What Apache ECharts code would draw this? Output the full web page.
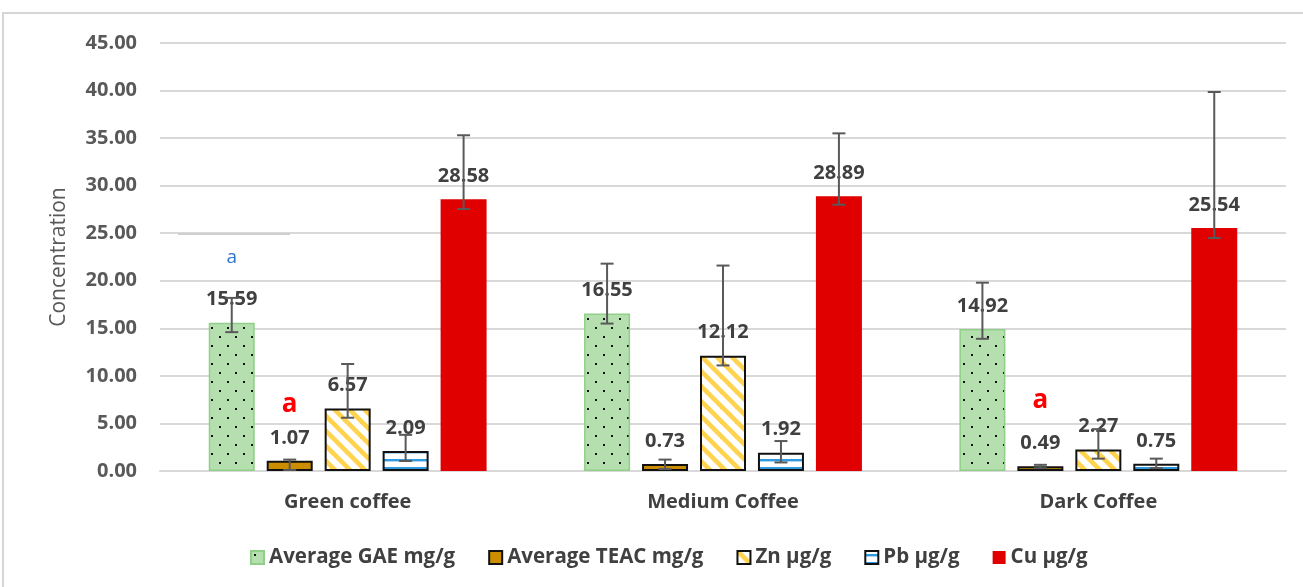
<!DOCTYPE html>
<html>
<head>
<meta charset="utf-8">
<script src="https://cdn.jsdelivr.net/npm/echarts@6/dist/echarts.min.js"></script>
<style>
  html, body { margin: 0; padding: 0; background: #ffffff; }
  #chart { width: 1303px; height: 587px; }
</style>
</head>
<body>
<div id="chart"></div>
<script>
// Categories and series
const categories = ['Green coffee', 'Medium Coffee', 'Dark Coffee'];
const seriesNames = ['Average GAE mg/g', 'Average TEAC mg/g', 'Zn µg/g', 'Pb µg/g', 'Cu µg/g'];

// Mean values per roast level
const gae  = [15.59, 16.55, 14.92];
const teac = [1.07, 0.73, 0.49];
const zn   = [6.57, 12.12, 2.27];
const pb   = [2.09, 1.92, 0.75];
const cu   = [28.58, 28.89, 25.54];

// Error bar ends (lower / upper) per series
const gaeLow  = [14.6, 15.5, 13.9];
const gaeHigh = [18.2, 21.8, 19.8];
const teacLow  = [0.1, 0.2, 0.3];
const teacHigh = [1.2, 1.2, 0.65];
const znLow  = [5.6, 11.1, 1.3];
const znHigh = [11.25, 21.6, 4.4];
const pbLow  = [1.05, 0.9, 0.3];
const pbHigh = [3.8, 3.15, 1.3];
const cuLow  = [27.55, 28.0, 24.5];
const cuHigh = [35.3, 35.5, 39.85];

// Y axis ticks
const yMin = 0, yMax = 45, yStep = 5;

// Significance letters: category index, series index, y position, text, colour
const annCat    = [0, 0, 2];
const annSeries = [0, 1, 1];
const annY      = [22.4, 6.95, 7.35];
const annText   = ['a', 'a', 'a'];
const annColor  = ['#2e74d0', '#ff0000', '#ff0000'];
const annBold   = [false, true, true];

const values = [gae, teac, zn, pb, cu];
const lows   = [gaeLow, teacLow, znLow, pbLow, cuLow];
const highs  = [gaeHigh, teacHigh, znHigh, pbHigh, cuHigh];

const BAR_W = 46;
const BAR_GAP = 0.26;
const STEP = BAR_W * (1 + BAR_GAP);

function makePattern(w, h, draw) {
  const c = document.createElement('canvas');
  c.width = w; c.height = h;
  const ctx = c.getContext('2d');
  draw(ctx, w, h);
  return { image: c, repeat: 'repeat' };
}

// Dotted green fill
const dotFill = makePattern(16, 18, (ctx, w, h) => {
  ctx.fillStyle = '#b6dfb0';
  ctx.fillRect(0, 0, w, h);
  ctx.fillStyle = '#111111';
  ctx.fillRect(3, 3, 2, 2);
  ctx.fillRect(11, 12, 2, 2);
});

// Yellow diagonal stripes on white
const stripeFill = makePattern(15, 15, (ctx, w, h) => {
  ctx.fillStyle = '#ffffff';
  ctx.fillRect(0, 0, w, h);
  ctx.strokeStyle = '#ffd34d';
  ctx.lineWidth = 4.6;
  for (let k = -2; k <= 2; k++) {
    ctx.beginPath();
    ctx.moveTo(k * w - w, -h);
    ctx.lineTo(k * w + 2 * w, 2 * h);
    ctx.stroke();
  }
});

// Blue horizontal lines on white
const lineFill = makePattern(8, 8, (ctx, w, h) => {
  ctx.fillStyle = '#ffffff';
  ctx.fillRect(0, 0, w, h);
  ctx.fillStyle = '#2f9ae0';
  ctx.fillRect(0, 3, w, 2.4);
});

const styles = [
  { color: dotFill, borderColor: '#8fcf87', borderWidth: 1.5 },
  { color: '#cc8e00', borderColor: '#111111', borderWidth: 2 },
  { color: stripeFill, borderColor: '#111111', borderWidth: 2 },
  { color: lineFill, borderColor: '#111111', borderWidth: 2 },
  { color: '#e00000', borderColor: '#e00000', borderWidth: 0 }
];

const labelStyle = {
  show: true,
  position: 'top',
  distance: 13,
  color: '#404040',
  fontFamily: 'Open Sans',
  fontWeight: 'bold',
  fontSize: 20,
  formatter: p => p.value.toFixed(2)
};

const barSeries = seriesNames.map((name, i) => ({
  name: name,
  type: 'bar',
  barWidth: BAR_W,
  barGap: (BAR_GAP * 100) + '%',
  data: values[i],
  itemStyle: styles[i],
  label: labelStyle,
  emphasis: { disabled: true },
  z: 2
}));

// Error bar items: [category, series, low, high]
const errData = [];
for (let s = 0; s < seriesNames.length; s++) {
  for (let c = 0; c < categories.length; c++) {
    errData.push([c, s, lows[s][c], highs[s][c]]);
  }
}

const annData = annCat.map((c, i) => [c, annSeries[i], annY[i], i]);

const chart = echarts.init(document.getElementById('chart'), null, { renderer: 'canvas' });

chart.setOption({
  animation: false,
  backgroundColor: '#ffffff',
  textStyle: { fontFamily: 'Open Sans' },
  grid: { left: 160, right: 17, top: 43, bottom: 116, containLabel: false },
  legend: {
    data: seriesNames,
    left: 245,
    top: 542,
    icon: 'rect',
    itemWidth: 13,
    itemHeight: 13,
    itemGap: 33,
    textStyle: { color: '#404040', fontSize: 20.5, fontWeight: 'bold', fontFamily: 'Open Sans' },
    selectedMode: false
  },
  xAxis: {
    type: 'category',
    data: categories,
    axisLine: { show: true, lineStyle: { color: '#d9d9d9', width: 2 } },
    axisTick: { show: false },
    axisLabel: { color: '#404040', fontSize: 20, fontWeight: 'bold', margin: 21, fontFamily: 'Open Sans' }
  },
  yAxis: {
    type: 'value',
    min: yMin,
    max: yMax,
    interval: yStep,
    name: 'Concentration',
    nameLocation: 'middle',
    nameGap: 90,
    nameRotate: 90,
    nameTextStyle: { color: '#595959', fontSize: 21, fontFamily: 'Open Sans' },
    axisLine: { show: false },
    axisTick: { show: false },
    axisLabel: {
      color: '#595959', fontSize: 20, fontWeight: 'bold', margin: 23, fontFamily: 'Open Sans',
      formatter: v => v.toFixed(2)
    },
    splitLine: { lineStyle: { color: '#d9d9d9', width: 2 } }
  },
  series: barSeries.concat([
    {
      name: 'errors',
      type: 'custom',
      data: errData,
      encode: { x: 0, y: [2, 3] },
      z: 5,
      silent: true,
      renderItem: (params, api) => {
        const c = api.value(0), s = api.value(1);
        const lo = api.coord([c, api.value(2)]);
        const hi = api.coord([c, api.value(3)]);
        const x = lo[0] + (s - 2) * STEP;
        const cap = 6.5;
        const st = { stroke: '#595959', lineWidth: 2 };
        return {
          type: 'group',
          children: [
            { type: 'line', shape: { x1: x, y1: lo[1], x2: x, y2: hi[1] }, style: st },
            { type: 'line', shape: { x1: x - cap, y1: hi[1], x2: x + cap, y2: hi[1] }, style: st },
            { type: 'line', shape: { x1: x - cap, y1: lo[1], x2: x + cap, y2: lo[1] }, style: st }
          ]
        };
      }
    },
    {
      name: 'letters',
      type: 'custom',
      data: annData,
      encode: { x: 0, y: 2 },
      z: 6,
      silent: true,
      renderItem: (params, api) => {
        const c = api.value(0), s = api.value(1), i = api.value(3);
        const p = api.coord([c, api.value(2)]);
        return {
          type: 'text',
          style: {
            text: annText[i],
            x: p[0] + (s - 2) * STEP,
            y: p[1],
            align: 'center',
            verticalAlign: 'middle',
            fill: annColor[i],
            fontFamily: 'Open Sans',
            fontSize: annBold[i] ? 26 : 19,
            fontWeight: annBold[i] ? 'bold' : 'normal'
          }
        };
      }
    }
  ]),
  graphic: [
    {
      type: 'rect',
      shape: { x: 3, y: 13, width: 1400, height: 700 },
      style: { fill: 'none', stroke: '#d6d6d6', lineWidth: 2 },
      silent: true,
      z: -1
    },
    {
      type: 'line',
      shape: { x1: 178, y1: 234, x2: 290, y2: 234 },
      style: { stroke: '#d0d0d0', lineWidth: 2 },
      silent: true,
      z: 1
    }
  ]
});
</script>
</body>
</html>
